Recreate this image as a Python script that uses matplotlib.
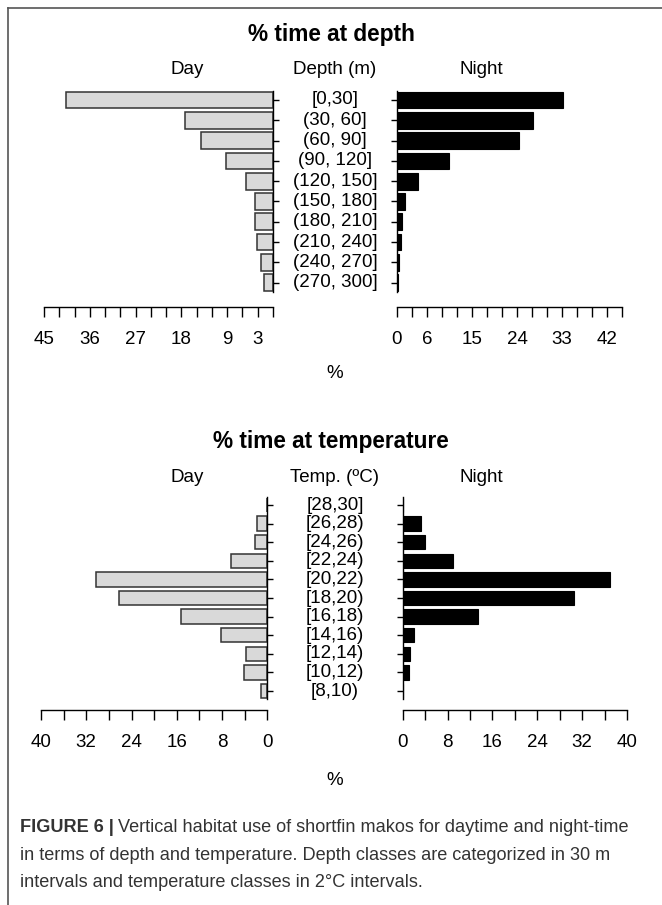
import matplotlib.pyplot as plt
from matplotlib.lines import Line2D

plt.rcParams['font.family'] = ['Liberation Sans', 'DejaVu Sans']

# depth panel (% time per 30 m class)
depth_classes = ['[0,30]', '(30, 60]', '(60, 90]', '(90, 120]', '(120, 150]',
                 '(150, 180]', '(180, 210]', '(210, 240]', '(240, 270]', '(270, 300]']
depth_day = [40.6, 17.3, 14.1, 9.3, 5.4, 3.6, 3.5, 3.1, 2.3, 1.8]
depth_night = [33.1, 27.1, 24.3, 10.5, 4.3, 1.7, 1.1, 0.9, 0.5, 0.2]
depth_ticks = list(range(0, 46, 3))
depth_day_labels = [45, 36, 27, 18, 9, 3]
depth_night_labels = [0, 6, 15, 24, 33, 42]

# temperature panel (% time per 2 degC class)
temp_classes = ['[28,30]', '[26,28)', '[24,26)', '[22,24)', '[20,22)', '[18,20)',
                '[16,18)', '[14,16)', '[12,14)', '[10,12)', '[8,10)']
temp_day = [0, 1.9, 2.1, 6.4, 30.2, 26.3, 15.3, 8.2, 3.8, 4.2, 1.1]
temp_night = [0, 3.2, 3.9, 9.0, 37.0, 30.5, 13.4, 2.1, 1.3, 1.1, 0]
temp_ticks = list(range(0, 41, 4))
temp_labels = [0, 8, 16, 24, 32, 40]

W, H = 662, 905
fig = plt.figure(figsize=(W / 100, H / 100), dpi=100)
FS = 13.5


def box(x0, x1, y0, y1):
    # pixel box -> figure fraction
    return fig.add_axes([x0 / W, 1 - y1 / H, (x1 - x0) / W, (y1 - y0) / H])


def side(x0, x1, row0, pitch, axis_y, vals, xmax, ticks, shown, left, frac):
    n = len(vals)
    y0 = row0 - 0.6 * pitch
    y1 = row0 + (n - 0.4) * pitch
    ax = box(x0, x1, y0, y1)
    if left:
        ax.barh(range(n), vals, height=frac, color='#d9d9d9', edgecolor='#333333', linewidth=1.1)
        ax.set_xlim(xmax, 0)
        sp = 'right'
    else:
        ax.barh(range(n), vals, height=frac, color='black', edgecolor='black', linewidth=0.8)
        ax.set_xlim(0, xmax)
        sp = 'left'
    ax.set_ylim(n - 0.4, -0.6)
    for s in ['top', 'right', 'left', 'bottom']:
        ax.spines[s].set_visible(False)
    ax.spines[sp].set_visible(True)
    ax.spines[sp].set_bounds(-0.45, n - 0.55)
    ax.spines[sp].set_linewidth(1.0)
    ax.spines['bottom'].set_visible(True)
    ax.spines['bottom'].set_position(('outward', (axis_y - y1) * 0.72))
    ax.spines['bottom'].set_linewidth(1.0)
    ax.spines['bottom'].set_bounds(0, xmax)
    ax.set_yticks(range(n))
    ax.set_yticklabels([])
    ax.yaxis.set_ticks_position(sp)
    ax.tick_params(axis='y', length=4.5, width=1.0)
    ax.set_xticks(ticks)
    ax.set_xticklabels([str(t) if t in shown else '' for t in ticks], fontsize=FS)
    ax.tick_params(axis='x', length=7.5, width=1.0, pad=10)
    ax.set_facecolor('none')
    return ax


def panel(title, title_y, head, head_y, cats, day, night, row0, pitch,
          axis_y, pct_y, day_x, night_x, xmax, ticks, dshown, nshown, frac):
    side(day_x[0], day_x[1], row0, pitch, axis_y, day, xmax, ticks, dshown, True, frac)
    side(night_x[0], night_x[1], row0, pitch, axis_y, night, xmax, ticks, nshown, False, frac)
    mid = (day_x[1] + night_x[0]) / 2
    fig.text(331 / W, 1 - title_y / H, title, fontsize=16.3, fontweight='bold',
             ha='center', va='center')
    fig.text(187 / W, 1 - head_y / H, 'Day', fontsize=FS, ha='center', va='center')
    fig.text(mid / W, 1 - head_y / H, head, fontsize=FS, ha='center', va='center')
    fig.text(481 / W, 1 - head_y / H, 'Night', fontsize=FS, ha='center', va='center')
    for i, c in enumerate(cats):
        fig.text(mid / W, 1 - (row0 + i * pitch) / H, c, fontsize=FS, ha='center', va='center')
    fig.text(335 / W, 1 - pct_y / H, '%', fontsize=FS, ha='center', va='center')


panel('% time at depth', 35, 'Depth (m)', 70, depth_classes, depth_day, depth_night,
      100, 20.3, 307, 373, (44, 273), (397, 622), 45, depth_ticks,
      depth_day_labels, depth_night_labels, 0.82)
panel('% time at temperature', 441, 'Temp. (ºC)', 477, temp_classes, temp_day, temp_night,
      505, 18.6, 710, 780, (41, 267.3), (402.7, 627), 40, temp_ticks,
      temp_labels, temp_labels, 0.78)

# frame (top and left lines only)
fig.add_artist(Line2D([8 / W, 1], [1 - 8.5 / H, 1 - 8.5 / H], color='#555555', linewidth=1.2))
fig.add_artist(Line2D([8 / W, 8 / W], [1 - 8.5 / H, 0], color='#555555', linewidth=1.2))

# caption
cap_fs = 13.1
bold = fig.text(20 / W, 1 - 828 / H, 'FIGURE 6 |', fontsize=cap_fs, fontweight='bold',
                color='#333333', va='center')
fig.canvas.draw()
bb = bold.get_window_extent()
fig.text((bb.x1 + 4) / W, 1 - 828 / H,
         'Vertical habitat use of shortfin makos for daytime and night-time',
         fontsize=cap_fs, color='#333333', va='center')
fig.text(20 / W, 1 - 855 / H,
         'in terms of depth and temperature. Depth classes are categorized in 30 m',
         fontsize=cap_fs, color='#333333', va='center')
fig.text(20 / W, 1 - 882 / H,
         'intervals and temperature classes in 2°C intervals.',
         fontsize=cap_fs, color='#333333', va='center')

fig.savefig('out.png', dpi=100)
